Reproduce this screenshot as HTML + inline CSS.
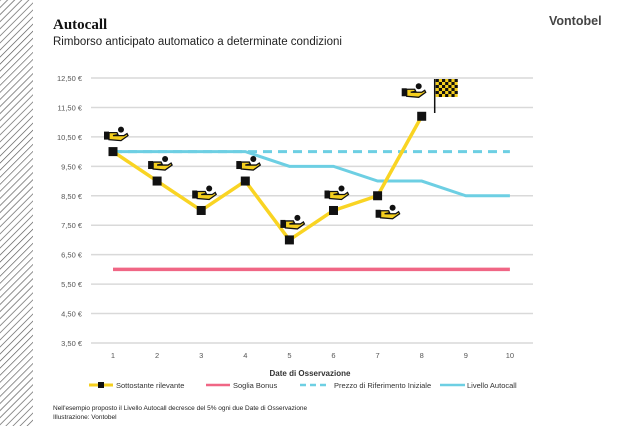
<!DOCTYPE html>
<html><head><meta charset="utf-8"><style>
body{margin:0;background:#fff;width:624px;height:426px;overflow:hidden;font-family:"Liberation Sans",sans-serif;}
</style></head><body>
<svg width="624" height="426" viewBox="0 0 624 426" xmlns="http://www.w3.org/2000/svg">
<defs>
<pattern id="hatch" width="5" height="5" patternUnits="userSpaceOnUse" patternTransform="rotate(45)">
<rect width="5" height="5" fill="#fff"/><line x1="0" y1="0" x2="0" y2="5" stroke="#555" stroke-width="1.3"/>
</pattern>
<g id="hand">
<rect x="0" y="5" width="5" height="8" fill="#111"/>
<path d="M5 6 L13 6 L14 8 L9 9 L20 9 L23 7 L24 9 L17 14 L5 13 Z" fill="#f5cf1e" stroke="#111" stroke-width="1.3"/>
<circle cx="17" cy="3" r="3" fill="#111"/>
</g>
</defs>
<rect x="0" y="0" width="33" height="426" fill="url(#hatch)"/>
<text x="53" y="29" font-family="Liberation Serif,serif" font-weight="bold" font-size="15" fill="#111">Autocall</text>
<text x="53" y="45" font-size="11.5" fill="#222">Rimborso anticipato automatico a determinate condizioni</text>
<text x="549" y="25" font-size="12.5" font-weight="bold" fill="#444">Vontobel</text>
<g id="grid"></g><g id="series"></g>
<text x="310" y="376" text-anchor="middle" font-size="8" font-weight="bold" fill="#333">Date di Osservazione</text>
<g font-size="7.5" fill="#333">
<g><line x1="89" y1="385" x2="113" y2="385" stroke="#f5cf1e" stroke-width="3"/><rect x="98" y="382" width="6" height="6" fill="#111"/><text x="116" y="388">Sottostante rilevante</text></g>
<g><line x1="206" y1="385" x2="230" y2="385" stroke="#f06685" stroke-width="2.5"/><text x="233" y="388">Soglia Bonus</text></g>
<g><line x1="300" y1="385" x2="330" y2="385" stroke="#6dcfe3" stroke-width="2.5" stroke-dasharray="6,4"/><text x="334" y="388">Prezzo di Riferimento Iniziale</text></g>
<g><line x1="440" y1="385" x2="465" y2="385" stroke="#6dcfe3" stroke-width="2.5"/><text x="467" y="388">Livello Autocall</text></g>
</g>
<text x="53" y="410" font-size="6.5" fill="#222">Nell'esempio proposto il Livello Autocall decresce del 5% ogni due Date di Osservazione</text>
<text x="53" y="419" font-size="6.5" fill="#222">Illustrazione: Vontobel</text>
</svg>
<script>
const categories=[1,2,3,4,5,6,7,8,9,10];
const yTicks=[12.5,11.5,10.5,9.5,8.5,7.5,6.5,5.5,4.5,3.5];
const sottostante=[10,9,8,9,7,8,8.5,11.2];
const autocall=[10,10,10,10,9.5,9.5,9,9,8.5,8.5];
const riferimento=[10,10,10,10,10,10,10,10,10,10];
const sogliaBonus=[6,6,6,6,6,6,6,6,6,6];
const NS='http://www.w3.org/2000/svg';
const X0=113,DX=44.1,Y0=78,YMAX=12.5,PY=29.44;
const xs=i=>X0+i*DX, ys=v=>Y0+(YMAX-v)*PY;
function mk(t,a,p){const e=document.createElementNS(NS,t);for(const k in a)e.setAttribute(k,a[k]);p.appendChild(e);return e;}
const grid=document.getElementById('grid'),ser=document.getElementById('series');
yTicks.forEach(v=>{
 const l=mk('line',{x1:91,x2:533,y1:ys(v),y2:ys(v),stroke:'#d9d9d9','stroke-width':1.5},grid);
 
 
 const t=mk('text',{x:82,y:ys(v)+3,'text-anchor':'end','font-size':7.5,fill:'#555'},grid);
 t.textContent=v.toFixed(2).replace('.',',')+' €';
 
 
});
categories.forEach((c,i)=>{
 const t=mk('text',{x:xs(i),y:358,'text-anchor':'middle','font-size':7.5,fill:'#555'},grid);
 t.textContent=c;
 
 
});
function line(arr,attrs,name){
 const p=mk('polyline',Object.assign({points:arr.map((v,i)=>xs(i)+','+ys(v)).join(' '),fill:'none'},attrs),ser);
 
 
}
line(sogliaBonus,{stroke:'#f06685','stroke-width':3.5},'soglia-bonus-line');
line(autocall,{stroke:'#6dcfe3','stroke-width':3},'livello-autocall-line');
line(riferimento,{stroke:'#6dcfe3','stroke-width':3,'stroke-dasharray':'9,6'},'prezzo-riferimento-line');
line(sottostante,{stroke:'#f9d423','stroke-width':3.5,'stroke-linejoin':'round'},'sottostante-line');
sottostante.forEach((v,i)=>{
 const r=mk('rect',{x:xs(i)-4.5,y:ys(v)-4.5,width:9,height:9,fill:'#111'},ser);
 
 
 let dx=-9,dy=-25;
 if(i===6){dx=-2;dy=9;} if(i===7){dx=-20;dy=-33;}
 const u=mk('use',{href:'#hand',x:xs(i)+dx,y:ys(v)+dy},ser);
 
 
});
const f=mk('g',{},ser);


const fx=xs(7)+13,fy=79;
mk('line',{x1:fx,x2:fx,y1:fy,y2:fy+34,stroke:'#111','stroke-width':1.5},f);
mk('rect',{x:fx+1,y:fy,width:22,height:18,fill:'#f5cf1e'},f);
for(let r=0;r<6;r++)for(let c=0;c<7;c++)if((r+c)%2===0)mk('rect',{x:fx+1+c*3.15,y:fy+r*3,width:3.15,height:3,fill:'#111'},f);
</script>
</body></html>
